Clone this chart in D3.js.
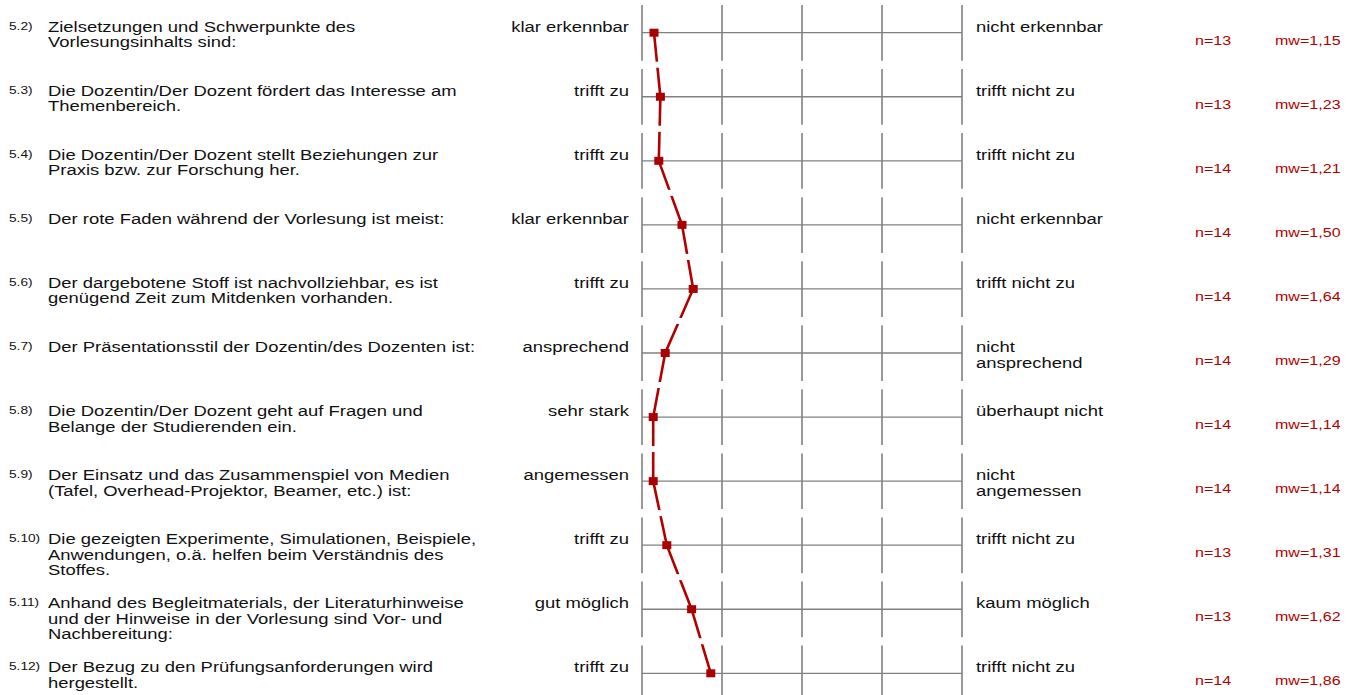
<!DOCTYPE html>
<html>
<head>
<meta charset="utf-8">
<script src="https://cdn.jsdelivr.net/npm/d3@7"></script>
<style>
  body { margin: 0; background: #fff; }
  svg { display: block; font-family: "Liberation Sans", Arial, sans-serif; }
</style>
</head>
<body>
<div id="chart"></div>
<script>
// Item numbers and question texts (one entry per line)
const itemNumbers = ['5.2)', '5.3)', '5.4)', '5.5)', '5.6)', '5.7)', '5.8)', '5.9)', '5.10)', '5.11)', '5.12)'];
const questions = [
    ['Zielsetzungen und Schwerpunkte des', 'Vorlesungsinhalts sind:'],
    ['Die Dozentin/Der Dozent fördert das Interesse am', 'Themenbereich.'],
    ['Die Dozentin/Der Dozent stellt Beziehungen zur', 'Praxis bzw. zur Forschung her.'],
    ['Der rote Faden während der Vorlesung ist meist:'],
    ['Der dargebotene Stoff ist nachvollziehbar, es ist', 'genügend Zeit zum Mitdenken vorhanden.'],
    ['Der Präsentationsstil der Dozentin/des Dozenten ist:'],
    ['Die Dozentin/Der Dozent geht auf Fragen und', 'Belange der Studierenden ein.'],
    ['Der Einsatz und das Zusammenspiel von Medien', '(Tafel, Overhead-Projektor, Beamer, etc.) ist:'],
    ['Die gezeigten Experimente, Simulationen, Beispiele,', 'Anwendungen, o.ä. helfen beim Verständnis des', 'Stoffes.'],
    ['Anhand des Begleitmaterials, der Literaturhinweise', 'und der Hinweise in der Vorlesung sind Vor- und', 'Nachbereitung:'],
    ['Der Bezug zu den Prüfungsanforderungen wird', 'hergestellt.']
];
const leftPoles = ['klar erkennbar', 'trifft zu', 'trifft zu', 'klar erkennbar', 'trifft zu', 'ansprechend',
    'sehr stark', 'angemessen', 'trifft zu', 'gut möglich', 'trifft zu'];
const rightPoles = [
    ['nicht erkennbar'], ['trifft nicht zu'], ['trifft nicht zu'], ['nicht erkennbar'], ['trifft nicht zu'],
    ['nicht', 'ansprechend'], ['überhaupt nicht'], ['nicht', 'angemessen'], ['trifft nicht zu'],
    ['kaum möglich'], ['trifft nicht zu']
];
const nValues = [13, 13, 14, 14, 14, 14, 14, 14, 13, 13, 14];
const meanValues = [1.15, 1.23, 1.21, 1.50, 1.64, 1.29, 1.14, 1.14, 1.31, 1.62, 1.86];
const scaleSteps = [1, 2, 3, 4, 5];

const width = 1350;
const height = 695;
const sx = 1.19;          // text in the reference is stretched horizontally
const lineGap = 15.5;
const red = '#b00000';
const grey = '#808080';

const rows = itemNumbers.map((id, i) => ({
    id: id,
    question: questions[i],
    left: leftPoles[i],
    right: rightPoles[i],
    n: nValues[i],
    mean: meanValues[i]
}));

// Scales
const x = d3.scaleLinear().domain([1, 5]).range([642, 962]);
const y = d3.scalePoint().domain(itemNumbers).range([32.7, 673.3]);

const svg = d3.select('#chart')
    .append('svg')
    .attr('width', width)
    .attr('height', height);

// Grid per row
const grid = svg.selectAll('g.row')
    .data(rows)
    .enter()
    .append('g')
    .attr('class', 'row')
    .attr('transform', d => `translate(0, ${y(d.id)})`);

grid.append('line')
    .attr('x1', x(1))
    .attr('x2', x(5))
    .attr('stroke', grey)
    .attr('stroke-width', 1.3);

grid.selectAll('line.tick')
    .data(scaleSteps)
    .enter()
    .append('line')
    .attr('class', 'tick')
    .attr('x1', d => x(d))
    .attr('x2', d => x(d))
    .attr('y1', -27.7)
    .attr('y2', 28)
    .attr('stroke', grey)
    .attr('stroke-width', 1.6);

// Profile line
const line = d3.line()
    .x(d => x(d.mean))
    .y(d => y(d.id));

svg.append('path')
    .datum(rows)
    .attr('d', line)
    .attr('fill', 'none')
    .attr('stroke', red)
    .attr('stroke-width', 2.6);

// Small breaks in the profile line between the row blocks
svg.selectAll('rect.gap')
    .data(rows.slice(0, -1))
    .enter()
    .append('rect')
    .attr('class', 'gap')
    .attr('x', x(1) + 2)
    .attr('width', x(5) - x(1) - 4)
    .attr('y', d => y(d.id) + 29)
    .attr('height', 6)
    .attr('fill', '#fff');

// Markers
svg.selectAll('rect.marker')
    .data(rows)
    .enter()
    .append('rect')
    .attr('class', 'marker')
    .attr('x', d => x(d.mean) - 4.5)
    .attr('y', d => y(d.id) - 4)
    .attr('width', 9)
    .attr('height', 8)
    .attr('fill', '#aa0000');

// Helper: stretched text placed at (px, py)
function stretchedText(sel, px, py, size, anchor, color) {
    return sel.append('text')
        .attr('transform', `translate(${px}, ${py}) scale(${sx}, 1)`)
        .attr('font-size', size)
        .attr('text-anchor', anchor)
        .attr('fill', color);
}

grid.each(function(d) {
    const g = d3.select(this);

    stretchedText(g, 9, -3, 11.5, 'start', '#111').text(d.id);

    d.question.forEach((t, k) => {
        stretchedText(g, 48, k * lineGap - 1, 15.5, 'start', '#111').text(t);
    });

    stretchedText(g, 629, -1, 15.5, 'end', '#111').text(d.left);

    d.right.forEach((t, k) => {
        stretchedText(g, 976, k * lineGap - 1, 15.5, 'start', '#111').text(t);
    });

    stretchedText(g, 1195, 12, 13.5, 'start', red).text('n=' + d.n);
    stretchedText(g, 1275, 12, 13.5, 'start', red)
        .text('mw=' + d3.format('.2f')(d.mean).replace('.', ','));
});
</script>
</body>
</html>
